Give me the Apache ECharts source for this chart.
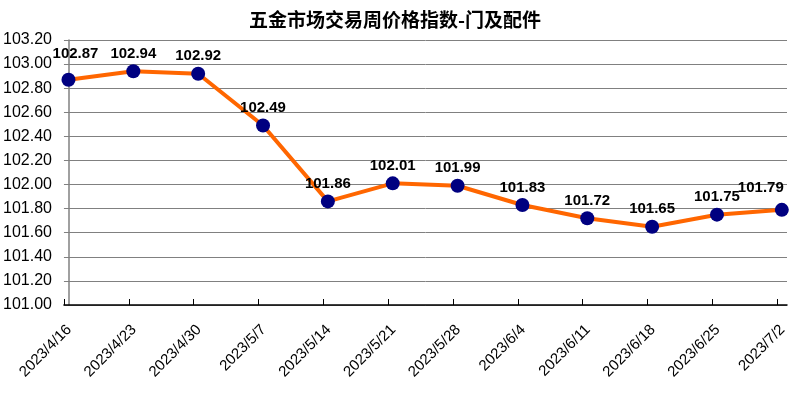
<!DOCTYPE html>
<html><head><meta charset="utf-8">
<script src="https://cdn.jsdelivr.net/npm/echarts@6/dist/echarts.min.js"></script>
<style>html,body{margin:0;padding:0;background:#fff}#c{width:790px;height:393px}</style>
</head><body><div id="c"></div>
<script>
const titleText = '五金市场交易周价格指数-门及配件';
const categories = ['2023/4/16','2023/4/23','2023/4/30','2023/5/7','2023/5/14','2023/5/21','2023/5/28','2023/6/4','2023/6/11','2023/6/18','2023/6/25','2023/7/2'];
const values = [102.87, 102.94, 102.92, 102.49, 101.86, 102.01, 101.99, 101.83, 101.72, 101.65, 101.75, 101.79];
const yMin = 101.0, yMax = 103.2, yStep = 0.2;

// x axis: category index positions; ticks sit slightly left of the points (as in the reference)
const xShift = 0.07;
const xMin = -xShift, xMax = categories.length - 1 + 0.08;
const tickVals = categories.map((c, i) => +(i - xShift).toFixed(3));

const seriesData = values.map((v, i) => {
  const item = { value: [i, v] };
  if (i === 0) item.label = { offset: [7, -8] };
  if (i === values.length - 1) item.label = { offset: [-21, -4] };
  return item;
});

const chart = echarts.init(document.getElementById('c'), null, {renderer:'canvas'});
chart.setOption({
  animation:false,
  backgroundColor:'#fff',
  title:{text:titleText,left:'center',top:5,textStyle:{fontFamily:'Noto Sans CJK SC',fontSize:19,fontWeight:'bold',color:'#000'}},
  grid:{left:62,right:3,top:40,bottom:88,containLabel:false},
  xAxis:{type:'value',min:xMin,max:xMax,
    axisLine:{show:true,lineStyle:{color:'#000',width:1.5}},
    axisTick:{show:true,inside:true,length:6,customValues:tickVals,lineStyle:{color:'#000',width:1}},
    axisLabel:{show:true,customValues:tickVals,rotate:45,verticalAlign:'top',color:'#000',fontSize:15,fontFamily:'Liberation Sans, Arial',margin:17,
      formatter:v=>{const k=Math.round(v+xShift);return categories[k]||'';}},
    splitLine:{show:false}},
  yAxis:{type:'value',min:yMin,max:yMax,interval:yStep,
    axisLine:{show:true,lineStyle:{color:'#808080',width:1.5}},
    axisTick:{show:false},
    axisLabel:{color:'#000',fontSize:16,fontFamily:'Liberation Sans, Arial',margin:12,formatter:v=>v.toFixed(2)},
    splitLine:{show:true,lineStyle:{color:'#808080',width:1}}},
  series:[{type:'line',data:seriesData,
    lineStyle:{color:'#FF6600',width:4},
    symbol:'circle',symbolSize:14,
    itemStyle:{color:'#000080',borderWidth:0},
    label:{show:true,position:'top',distance:3,color:'#000',fontSize:15,fontWeight:'bold',fontFamily:'Liberation Sans, Arial',formatter:p=>p.value[1].toFixed(2)}
  }]
});
</script></body></html>
